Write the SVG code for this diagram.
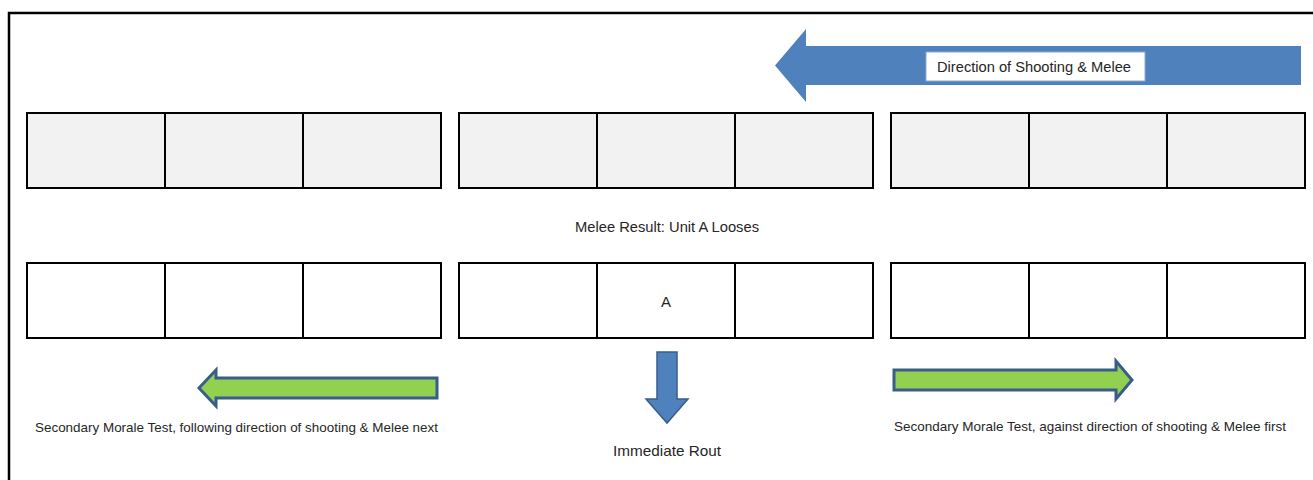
<svg xmlns="http://www.w3.org/2000/svg" width="1313" height="480" viewBox="0 0 1313 480">
  <style>
    .cell { stroke: #000; stroke-width: 2; }
    .top { fill: #F2F2F2; }
    .bot { fill: #FFFFFF; }
    .txt { font-family: "Liberation Sans", Arial, sans-serif; font-size: 15px; fill: #262626; }
    .small { font-size: 13.5px; }
    .blue { fill: #4F81BD; }
    .green { fill: #92D050; stroke: #385D8A; stroke-width: 3; stroke-linejoin: miter; }
    .down { fill: #4F81BD; stroke: #385D8A; stroke-width: 1.5; }
  </style>
  <rect width="1313" height="480" fill="#FFFFFF"/>
  <!-- frame -->
  <path d="M9,480 V13 H1313" fill="none" stroke="#000" stroke-width="2.5"/>

  <g id="direction-arrow">
    <path class="blue" d="M775,65.5 L806,29 L806,46 L1301,46 L1301,85 L806,85 L806,102 Z"/>
    <rect x="926" y="52" width="219" height="29" fill="#FFFFFF" stroke="#8EA9CF" stroke-width="1"/>
    <text class="txt" x="937" y="72" textLength="194" lengthAdjust="spacingAndGlyphs">Direction of Shooting &amp; Melee</text>
  </g>

  <g id="row1-left">
    <rect class="cell top" x="27" y="113" width="414" height="75"/>
    <line class="cell" x1="165" y1="113" x2="165" y2="188"/>
    <line class="cell" x1="303" y1="113" x2="303" y2="188"/>
  </g>
  <g id="row1-mid">
    <rect class="cell top" x="459" y="113" width="414" height="75"/>
    <line class="cell" x1="597" y1="113" x2="597" y2="188"/>
    <line class="cell" x1="735" y1="113" x2="735" y2="188"/>
  </g>
  <g id="row1-right">
    <rect class="cell top" x="891" y="113" width="414" height="75"/>
    <line class="cell" x1="1029" y1="113" x2="1029" y2="188"/>
    <line class="cell" x1="1167" y1="113" x2="1167" y2="188"/>
  </g>

  <g id="melee-result">
    <text class="txt" x="575" y="232" textLength="184" lengthAdjust="spacingAndGlyphs">Melee Result: Unit A Looses</text>
  </g>

  <g id="row2-left">
    <rect class="cell bot" x="27" y="263" width="414" height="75"/>
    <line class="cell" x1="165" y1="263" x2="165" y2="338"/>
    <line class="cell" x1="303" y1="263" x2="303" y2="338"/>
  </g>
  <g id="row2-mid">
    <rect class="cell bot" x="459" y="263" width="414" height="75"/>
    <line class="cell" x1="597" y1="263" x2="597" y2="338"/>
    <line class="cell" x1="735" y1="263" x2="735" y2="338"/>
    <text class="txt" x="666" y="307" text-anchor="middle">A</text>
  </g>
  <g id="row2-right">
    <rect class="cell bot" x="891" y="263" width="414" height="75"/>
    <line class="cell" x1="1029" y1="263" x2="1029" y2="338"/>
    <line class="cell" x1="1167" y1="263" x2="1167" y2="338"/>
  </g>

  <g id="connectors">
    <path id="arrow-left" class="green" d="M199,388 L216,370 L216,378 L437,378 L437,398 L216,398 L216,406 Z"/>
    <path id="arrow-down" class="down" d="M657,352 L677,352 L677,399 L688,399 L667,423 L646,399 L657,399 Z"/>
    <path id="arrow-right" class="green" d="M894,370 L1116,370 L1116,361 L1132,380 L1116,399 L1116,390 L894,390 Z"/>
  </g>

  <g id="label-left">
    <text class="txt small" x="35" y="432" textLength="403" lengthAdjust="spacingAndGlyphs">Secondary Morale Test, following direction of shooting &amp; Melee next</text>
  </g>
  <g id="label-rout">
    <text class="txt" x="613" y="456" textLength="108" lengthAdjust="spacingAndGlyphs">Immediate Rout</text>
  </g>
  <g id="label-right">
    <text class="txt small" x="894" y="431" textLength="392" lengthAdjust="spacingAndGlyphs">Secondary Morale Test, against direction of shooting &amp; Melee first</text>
  </g>
</svg>
